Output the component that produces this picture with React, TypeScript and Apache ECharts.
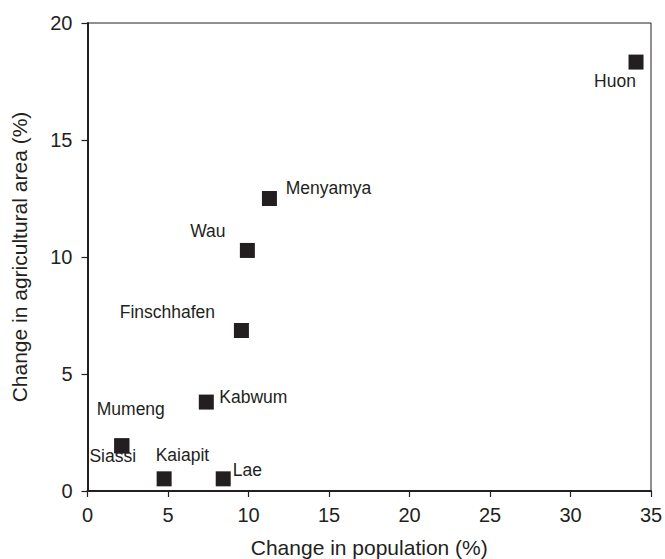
import React, { useEffect, useRef } from "react";
import * as echarts from "echarts";

const districts = ["Huon", "Menyamya", "Wau", "Finschhafen", "Kabwum", "Mumeng", "Siassi", "Kaiapit", "Lae"];
const populationChange = [34.07, 11.3, 9.93, 9.56, 7.38, 2.13, 2.13, 4.76, 8.43];
const agriculturalAreaChange = [18.33, 12.5, 10.28, 6.86, 3.8, 1.93, 1.93, 0.52, 0.52];

// label offsets (px) from marker centre — styling only
const labelOffsets: [number, number][] = [
  [-21, 19],
  [59, -11],
  [-39.5, -19.7],
  [-74, -18.5],
  [47, -5.3],
  [9, -36.6],
  [-9, 10.5],
  [18.3, -24.3],
  [24.2, -8.6],
];

const INK = "#231f20";
const FONT = "Liberation Sans, Arial, Helvetica, sans-serif";

export default function App() {
  const ref = useRef<HTMLDivElement>(null);
  useEffect(() => {
    if (!ref.current) return;
    document.body.style.margin = "0";
    document.body.style.overflow = "hidden";
    const chart = echarts.init(ref.current, null, { renderer: "svg" });
    const data = districts.map((name, i) => ({
      name,
      value: [populationChange[i], agriculturalAreaChange[i]],
      label: {
        show: true,
        position: "inside",
        offset: labelOffsets[i],
        formatter: name,
        color: INK,
        fontSize: 17.5,
        fontFamily: FONT,
      },
    }));
    chart.setOption({
      animation: false,
      backgroundColor: "#ffffff",
      grid: {
        left: 87.5,
        right: 14,
        top: 23,
        bottom: 68,
        outerBoundsMode: "none",
        containLabel: false,
        show: true,
        borderColor: INK,
        borderWidth: 1,
        backgroundColor: "transparent",
      },
      xAxis: {
        type: "value",
        min: 0,
        max: 35,
        interval: 5,
        name: "Change in population (%)",
        nameLocation: "middle",
        nameGap: 46,
        nameTextStyle: { color: INK, fontSize: 21, fontFamily: FONT },
        axisLine: { show: true, onZero: false, lineStyle: { color: INK, width: 2 } },
        axisTick: { show: true, inside: false, length: 6, lineStyle: { color: INK, width: 1.2 } },
        axisLabel: { color: INK, fontSize: 20, fontFamily: FONT, margin: 14 },
        splitLine: { show: false },
      },
      yAxis: {
        type: "value",
        min: 0,
        max: 20,
        interval: 5,
        name: "Change in agricultural area (%)",
        nameLocation: "middle",
        nameGap: 58,
        nameTextStyle: { color: INK, fontSize: 21, fontFamily: FONT },
        axisLine: { show: true, onZero: false, lineStyle: { color: INK, width: 2 } },
        axisTick: { show: true, inside: false, length: 6, lineStyle: { color: INK, width: 1.2 } },
        axisLabel: { color: INK, fontSize: 20, fontFamily: FONT, margin: 15 },
        splitLine: { show: false },
      },
      series: [
        {
          type: "scatter",
          symbol: "rect",
          symbolSize: 15,
          itemStyle: { color: INK, opacity: 1 },
          data,
        },
      ],
    });
    return () => chart.dispose();
  }, []);
  return <div ref={ref} style={{ position: "fixed", left: 0, top: 0, width: 665, height: 559 }} />;
}
